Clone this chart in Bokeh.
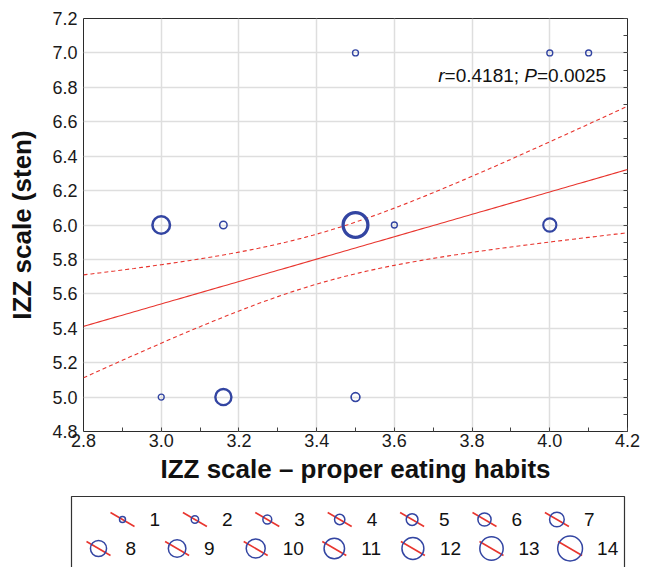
import numpy as np
from bokeh.plotting import figure
from bokeh.models import Range1d, Label, LinearAxis, FixedTicker
from bokeh.embed import file_html
from bokeh.resources import INLINE
from bokeh.core.properties import value

# Score pairs (eating-habits score, IZZ sten) and number of respondents at each pair
habits = [3.5, 4.0, 4.1, 3.0, 3.16, 3.5, 3.6, 4.0, 3.0, 3.16, 3.5]
sten = [7.0, 7.0, 7.0, 6.0, 6.0, 6.0, 6.0, 6.0, 5.0, 5.0, 5.0]
counts = [1, 1, 1, 9, 2, 14, 1, 6, 1, 8, 3]

legend_counts = list(range(1, 15))
x_ticks = [2.8, 3.0, 3.2, 3.4, 3.6, 3.8, 4.0, 4.2]
y_ticks = [4.8, 5.0, 5.2, 5.4, 5.6, 5.8, 6.0, 6.2, 6.4, 6.6, 6.8, 7.0, 7.2]
r_value = "0.4181"
p_value = "0.0025"

FONT = "Liberation Sans"
BLUE = "#3345a2"
RED = "#e8352e"
T_CRIT = 2.014  # two-sided 95% Student t quantile for the residual df

W, H = 646, 567
FRAME_L, FRAME_R, FRAME_T, FRAME_B = 83, 627, 18, 431


def marker_diameter(n):
    return 4.5 + 1.45 * np.asarray(n, dtype=float)


# Weighted least-squares fit with 95% confidence band for the mean
x = np.array(habits)
y = np.array(sten)
w = np.array(counts, dtype=float)
n_tot = w.sum()
xm = (w * x).sum() / n_tot
ym = (w * y).sum() / n_tot
sxx = (w * (x - xm) ** 2).sum()
sxy = (w * (x - xm) * (y - ym)).sum()
syy = (w * (y - ym) ** 2).sum()
slope = sxy / sxx
intercept = ym - slope * xm
s_res = np.sqrt((syy - slope * sxy) / (n_tot - 2))

xs = np.linspace(x_ticks[0], x_ticks[-1], 141)
fit = intercept + slope * xs
half = T_CRIT * s_res * np.sqrt(1.0 / n_tot + (xs - xm) ** 2 / sxx)

p = figure(width=W, height=H,
           x_range=Range1d(x_ticks[0], x_ticks[-1]),
           y_range=Range1d(y_ticks[0], y_ticks[-1]),
           output_backend="svg", toolbar_location=None,
           min_border_left=FRAME_L, min_border_right=W - FRAME_R,
           min_border_top=FRAME_T, min_border_bottom=H - FRAME_B)
p.outline_line_color = "#2b2b2b"
p.outline_line_width = 1
p.background_fill_color = "white"
p.border_fill_color = "white"

# Pixel-based ranges used to lay out the count key under the axis title
p.extra_x_ranges = {"px": Range1d(FRAME_L, FRAME_R)}
p.extra_y_ranges = {"py": Range1d(FRAME_B, FRAME_T)}

x_minor = [round(v, 1) for v in np.arange(2.9, 4.2, 0.1)]
y_fine = [round(v, 1) for v in np.arange(4.8, 7.25, 0.1)]

p.xaxis.ticker = FixedTicker(ticks=x_ticks, minor_ticks=x_minor)
p.yaxis.ticker = FixedTicker(ticks=y_ticks)
p.xaxis.major_label_overrides = {t: f"{t:.1f}" for t in x_ticks}
p.yaxis.major_label_overrides = {t: f"{t:.1f}" for t in y_ticks}

for ax in (p.xaxis[0], p.yaxis[0]):
    ax.axis_line_color = None
    ax.major_tick_out = 0
    ax.major_tick_in = 0
    ax.minor_tick_out = 0
    ax.minor_tick_in = 0
    ax.major_label_text_font = FONT
    ax.major_label_text_font_size = "18px"
    ax.major_label_text_color = "#1a1a1a"
    ax.axis_label_text_font = FONT
    ax.axis_label_text_font_size = "26px"
    ax.axis_label_text_font_style = "bold"
    ax.axis_label_text_color = "#111111"

p.xaxis.minor_tick_in = 4
p.xaxis.minor_tick_line_color = "#444444"
p.xaxis.major_label_standoff = 2
p.xaxis.axis_label_standoff = 4
p.yaxis.major_label_standoff = 6
p.yaxis.axis_label_standoff = 12
p.xaxis.axis_label = "IZZ scale \u2013 proper eating habits"
p.yaxis.axis_label = "IZZ scale (sten)"

# Unlabelled inner ticks along the right edge of the frame
right_axis = LinearAxis(ticker=FixedTicker(ticks=[], minor_ticks=y_fine),
                        axis_line_color=None, major_tick_out=0, major_tick_in=0,
                        minor_tick_out=0, minor_tick_in=4,
                        minor_tick_line_color="#444444")
p.add_layout(right_axis, "right")

p.xgrid.ticker = FixedTicker(ticks=x_ticks)
p.ygrid.ticker = FixedTicker(ticks=y_ticks)
p.grid.grid_line_color = "#dedede"
p.grid.grid_line_width = 1.5

# Regression line and confidence limits
p.line(xs, fit, line_color=RED, line_width=1.1)
p.line(xs, fit + half, line_color=RED, line_width=1.1, line_dash="4 3")
p.line(xs, fit - half, line_color=RED, line_width=1.1, line_dash="4 3")

# Bubbles sized by number of respondents
p.scatter(habits, sten, marker="circle", size=marker_diameter(counts),
          fill_color=None, line_color=BLUE,
          line_width=list(1.2 + 0.15 * w))

# Correlation statement with italic symbols
ann_x = 3.713
ann_y = 6.869
pieces = [("r", "italic", 0), ("=" + r_value + "; ", "normal", 6.3),
          ("P", "italic", 86.0), ("=" + p_value, "normal", 98.7)]
for txt, style, off in pieces:
    p.add_layout(Label(x=ann_x, y=ann_y, x_offset=off, text=txt,
                       text_font=FONT, text_font_size="19px",
                       text_font_style=style, text_color="#111111",
                       text_baseline="alphabetic", text_align="left"))

# Count key: one bubble per count with a diagonal fit-line swatch, boxed
cx, cy = [], []
for i, c in enumerate(legend_counts):
    if c <= 7:
        cx.append(122 + 72.4 * i)
        cy.append(519)
    else:
        cx.append(98 + 78.6 * (i - 7))
        cy.append(548)
cx = np.array(cx)
cy = np.array(cy)
key_d = marker_diameter(legend_counts)

key = dict(x_range_name="px", y_range_name="py", level="overlay")
p.quad(left=[71], right=[624], top=[496], bottom=[590],
       fill_color=None, line_color="#333333", line_width=1.2, **key)
p.segment(x0=cx - 12, y0=cy - 7, x1=cx + 12, y1=cy + 7,
          line_color=RED, line_width=1.6, **key)
p.ellipse(x=cx, y=cy, width=key_d, height=key_d,
          width_units="screen", height_units="screen",
          fill_color=None, line_color=BLUE, line_width=1.5, **key)
p.text(cx + 27, cy, text=[str(c) for c in legend_counts],
       text_font=value(FONT), text_font_size="19px", text_color="#111111",
       text_baseline="middle", text_align="left", **key)

open("out.html", "w").write(file_html(p, INLINE))
